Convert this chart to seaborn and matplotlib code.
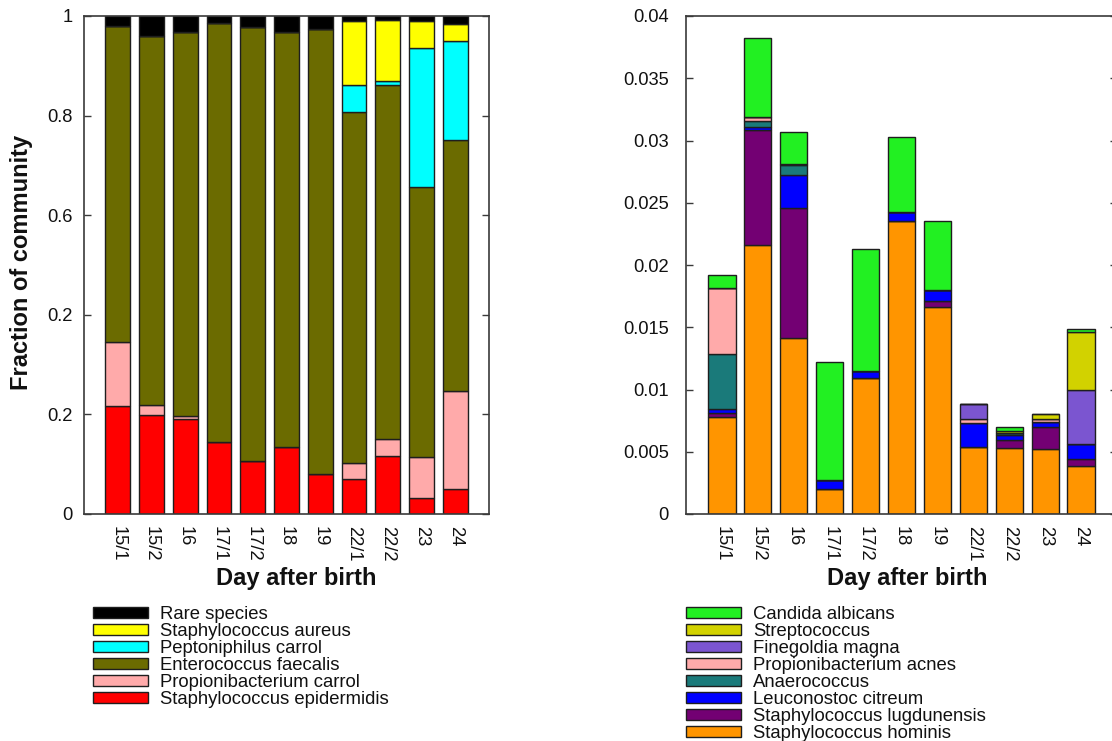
import numpy as np
import pandas as pd
import seaborn as sns
import matplotlib
matplotlib.use("Agg")
import matplotlib.pyplot as plt
from matplotlib.patches import Patch

# ---------------------------------------------------------------- data
days = ["15/1", "15/2", "16", "17/1", "17/2", "18", "19", "22/1", "22/2", "23", "24"]

# Left panel: fraction of the whole community (stacked bottom -> top)
staph_epidermidis = [0.217, 0.198, 0.190, 0.145, 0.106, 0.135, 0.080, 0.070, 0.116, 0.032, 0.050]
propioni_carrol = [0.129, 0.021, 0.006, 0.000, 0.000, 0.000, 0.000, 0.032, 0.035, 0.082, 0.197]
enterococcus_faecalis = [0.633, 0.740, 0.771, 0.840, 0.871, 0.833, 0.894, 0.705, 0.710, 0.542, 0.504]
peptoniphilus_carrol = [0.000, 0.000, 0.000, 0.000, 0.000, 0.000, 0.000, 0.055, 0.008, 0.280, 0.199]
staph_aureus = [0.000, 0.000, 0.000, 0.000, 0.000, 0.000, 0.000, 0.127, 0.122, 0.054, 0.033]
rare_species = [0.021, 0.041, 0.033, 0.015, 0.023, 0.032, 0.026, 0.011, 0.009, 0.010, 0.017]

# Right panel: low-abundance taxa (stacked bottom -> top)
staph_hominis = [0.00782, 0.02161, 0.01416, 0.00203, 0.01092, 0.02356, 0.01660, 0.00535, 0.00527, 0.00520, 0.00383]
staph_lugdunensis = [0.00032, 0.00921, 0.01039, 0.0, 0.0, 0.0, 0.00053, 0.0, 0.00070, 0.00176, 0.00059]
leuconostoc_citreum = [0.00032, 0.00029, 0.00268, 0.00070, 0.00059, 0.00070, 0.00086, 0.00193, 0.00035, 0.00040, 0.00118]
anaerococcus = [0.00437, 0.00043, 0.00080, 0.0, 0.0, 0.0, 0.0, 0.0, 0.00016, 0.0, 0.0]
propioni_acnes = [0.00535, 0.00037, 0.00010, 0.0, 0.0, 0.0, 0.0, 0.00035, 0.0, 0.00027, 0.0]
finegoldia_magna = [0.0, 0.0, 0.0, 0.0, 0.0, 0.0, 0.0, 0.00121, 0.0, 0.0, 0.00439]
streptococcus = [0.0, 0.0, 0.0, 0.0, 0.0, 0.0, 0.0, 0.0, 0.00015, 0.00043, 0.00465]
candida_albicans = [0.00099, 0.00630, 0.00253, 0.00945, 0.00980, 0.00602, 0.00554, 0.0, 0.00036, 0.0, 0.00025]

left_layers = [
    ("Staphylococcus epidermidis", staph_epidermidis, "#ff0000"),
    ("Propionibacterium carrol", propioni_carrol, "#ffaaaa"),
    ("Enterococcus faecalis", enterococcus_faecalis, "#6b6b00"),
    ("Peptoniphilus carrol", peptoniphilus_carrol, "#00ffff"),
    ("Staphylococcus aureus", staph_aureus, "#ffff00"),
    ("Rare species", rare_species, "#000000"),
]
right_layers = [
    ("Staphylococcus hominis", staph_hominis, "#ff9500"),
    ("Staphylococcus lugdunensis", staph_lugdunensis, "#730073"),
    ("Leuconostoc citreum", leuconostoc_citreum, "#0000ff"),
    ("Anaerococcus", anaerococcus, "#1a7a7a"),
    ("Propionibacterium acnes", propioni_acnes, "#ffaaaa"),
    ("Finegoldia magna", finegoldia_magna, "#7b55d0"),
    ("Streptococcus", streptococcus, "#d2d200"),
    ("Candida albicans", candida_albicans, "#22f022"),
]

left_ticks = [0, 0.2, 0.4, 0.6, 0.8, 1.0]
left_ticklabels = ["0", "0.2", "0.2", "0.6", "0.8", "1"]
right_ticks = [0, 0.005, 0.01, 0.015, 0.02, 0.025, 0.03, 0.035, 0.04]
right_ticklabels = ["0", "0.005", "0.01", "0.015", "0.02", "0.025", "0.03", "0.035", "0.04"]

# ---------------------------------------------------------------- style
sns.set_style("white")
plt.rcParams["font.family"] = ["Liberation Sans", "DejaVu Sans"]
EDGE = "#1e1e1e"
SPINE = "#3a3a3a"

W, H = 1112, 741
fig = plt.figure(figsize=(W / 100, H / 100), dpi=100)

def px_axes(x0, y0, x1, y1):
    return fig.add_axes([x0 / W, 1 - y1 / H, (x1 - x0) / W, (y1 - y0) / H])

ax_l = px_axes(84, 16, 489, 514)
ax_r = px_axes(686, 16, 1117, 514)


def stacked(ax, layers, width):
    bottom = np.zeros(len(days))
    for name, vals, col in layers:
        df = pd.DataFrame({"day": days, "value": vals})
        sns.barplot(data=df, x="day", y="value", order=days, color=col,
                    width=width, bottom=bottom, edgecolor=EDGE, linewidth=1.0,
                    saturation=1, errorbar=None, ax=ax)
        bottom = bottom + np.asarray(vals)


stacked(ax_l, left_layers, 0.74)
stacked(ax_r, right_layers, 0.76)

for ax, ticks, labels, ymax, pad in [
    (ax_l, left_ticks, left_ticklabels, 1.0, 8.3),
    (ax_r, right_ticks, right_ticklabels, 0.04, 12.5),
]:
    ax.set_xlim(-1, len(days))
    ax.set_ylim(0, ymax)
    ax.set_yticks(ticks)
    ax.set_yticklabels(labels)
    ax.tick_params(axis="y", direction="in", length=5, width=1.0, color=SPINE,
                   left=True, right=True, labelsize=13.2, pad=pad, labelcolor="#111111")
    ax.tick_params(axis="x", length=0, labelsize=13.2, pad=9, labelcolor="#111111")
    for lab in ax.get_xticklabels():
        lab.set_rotation(270)
        lab.set_va("top")
        lab.set_ha("center")
    for sp in ax.spines.values():
        sp.set_visible(True)
        sp.set_color(SPINE)
        sp.set_linewidth(1.2)
    ax.set_ylabel("")
    ax.set_xlabel("Day after birth", fontsize=17, fontweight="bold", color="#111111")
    ax.xaxis.label.set_va("center")

ax_l.xaxis.set_label_coords((296 - 84) / 405, (514 - 578) / 498)
ax_r.xaxis.set_label_coords((907 - 686) / 431, (514 - 578) / 498)

ax_l.set_ylabel("Fraction of community", fontsize=17, fontweight="bold", color="#111111")
ax_l.yaxis.label.set_va("center")
ax_l.yaxis.set_label_coords((22 - 84) / 405, (514 - 262) / 498)


def legend_for(layers, x_px, y_px):
    handles = [Patch(facecolor=col, edgecolor=EDGE, linewidth=1.0, label=name)
               for name, vals, col in reversed(layers)]
    fs = 13.3
    fpx = fs * 100 / 72
    fig.legend(handles=handles, loc="upper left",
               bbox_to_anchor=(x_px / W, 1 - y_px / H), bbox_transform=fig.transFigure,
               frameon=False, fontsize=fs, handlelength=55 / fpx, handleheight=9 / fpx,
               handletextpad=(160 - 148) / fpx, labelspacing=0.0,
               borderpad=0, borderaxespad=0, labelcolor="#111111")


legend_for(left_layers, 93, 606)
legend_for(right_layers, 686, 606)

fig.savefig("out.png", dpi=100, facecolor="white")
